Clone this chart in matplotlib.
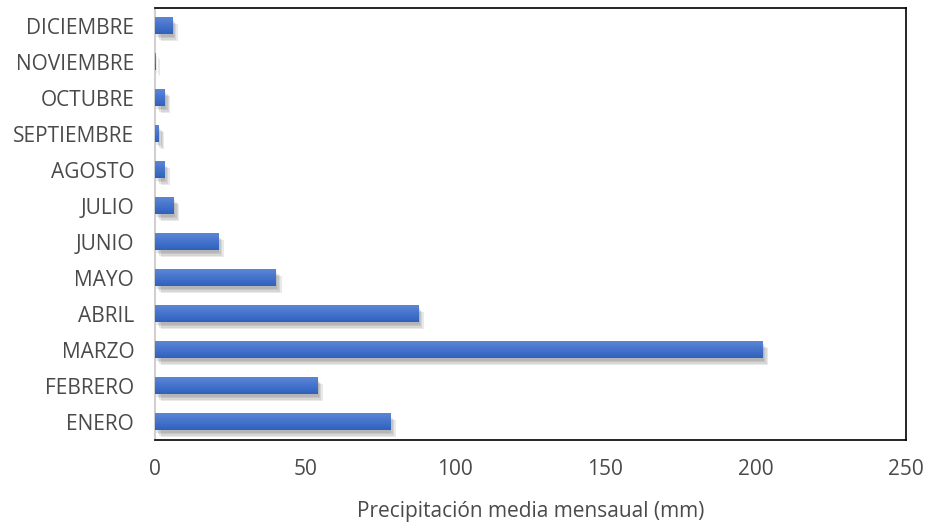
import numpy as np
import matplotlib.pyplot as plt
import matplotlib.patheffects as pe
from matplotlib.colors import LinearSegmentedColormap

plt.rcParams['font.family'] = ['Open Sans', 'DejaVu Sans']

months = ['ENERO', 'FEBRERO', 'MARZO', 'ABRIL', 'MAYO', 'JUNIO',
          'JULIO', 'AGOSTO', 'SEPTIEMBRE', 'OCTUBRE', 'NOVIEMBRE', 'DICIEMBRE']
precip = [78.3, 54.0, 202.3, 87.7, 40.3, 21.0, 6.3, 3.0, 1.3, 3.3, 0.3, 5.7]
xticks = [0, 50, 100, 150, 200, 250]

fig = plt.figure(figsize=(9.25, 5.23), dpi=100)
ax = fig.add_axes([0.1676, 0.159, 0.8114, 0.826])

bars = ax.barh(range(len(months)), precip, height=0.47, color='#3D6DCB',
               linewidth=0, zorder=3)

# soft drop shadow + vertical gradient, roughly like the office style
shadow = [pe.SimplePatchShadow(offset=(k, -k - 1), alpha=0.1,
                               shadow_rgbFace='#303030') for k in (1, 2, 3, 4)]
grad = np.linspace(0, 1, 64).reshape(-1, 1)
cmap = LinearSegmentedColormap.from_list('g', ['#2F61C0', '#5C86D7'])
for b in bars:
    b.set_path_effects(shadow + [pe.Normal()])
    x0, y0, w, h = b.get_x(), b.get_y(), b.get_width(), b.get_height()
    if w <= 0:
        continue
    im = ax.imshow(grad, cmap=cmap, extent=(x0, x0 + w, y0, y0 + h),
                   origin='lower', aspect='auto', zorder=4,
                   interpolation='bilinear')
    im.set_clip_path(b)

ax.set_xlim(0, 250)
ax.set_ylim(-0.5, len(months) - 0.5)
ax.set_xticks(xticks)
ax.set_yticks(range(len(months)))
ax.set_yticklabels(months)
ax.tick_params(axis='both', length=0, labelsize=15, colors='#4a4a4a')
ax.tick_params(axis='x', pad=14)
ax.tick_params(axis='y', pad=15)

for side in ['top', 'right', 'bottom']:
    ax.spines[side].set_color('black')
    ax.spines[side].set_linewidth(1.2)
ax.spines['left'].set_color('#d0d0d0')
ax.spines['left'].set_linewidth(1.5)

ax.set_xlabel('Precipitación media mensaual (mm)', fontsize=15,
              color='#4a4a4a', labelpad=15)

fig.savefig('out.png', dpi=100)
